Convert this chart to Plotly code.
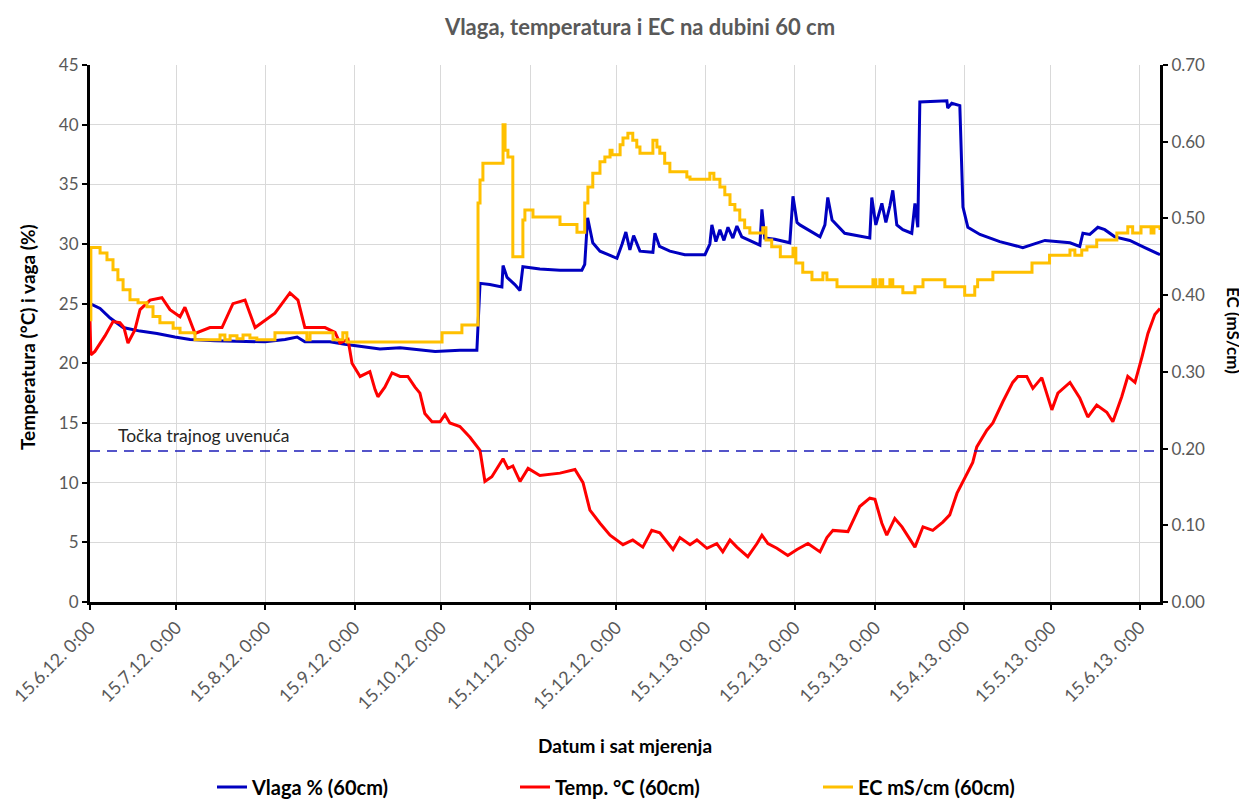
import pandas as pd
import plotly.graph_objects as go

START = pd.Timestamp("2012-06-15")

# Vlaga % (60cm): day offset from 15.6.2012, value
vlaga_day = [0, 3.5, 7, 11.5, 17.4, 23.3, 29.5, 34.8, 43.5, 60.8, 67.8, 72, 74.7, 83.4, 88.6, 93.9,
             100.8, 107.8, 114.7, 120, 128.6, 134.5, 135.6, 139, 143.2, 143.6, 145, 147.7, 149.5,
             150.5, 156.4, 163.4, 171, 172, 173, 174.8, 177.3, 183.2, 185, 186.3, 187.7, 189, 191.2,
             195.7, 196.4, 198, 201.6, 206.8, 213.8, 215.5, 216.2, 217.6, 219, 220.4, 221.8, 223.5,
             224.9, 226.6, 232.9, 233.6, 234.6, 238.1, 243.3, 244.4, 245.8, 246.8, 253.8, 255.5,
             256.5, 258, 262.4, 271.1, 271.8, 273.2, 275.3, 276.7, 278.1, 279.1, 280.5, 282.6, 285.7,
             286.8, 287.8, 288.5, 297.9, 298.2, 299.6, 302.4, 303.5, 305.2, 309.4, 316.3, 324.3,
             326.8, 332, 340.7, 344.1, 345.2, 347.6, 350.4, 352.8, 356.3, 361.5, 366.7, 372]
vlaga_val = [25.0, 24.6, 23.8, 23.0, 22.7, 22.5, 22.2, 22.0, 21.9, 21.8, 22.0, 22.2, 21.8, 21.8, 21.6,
             21.4, 21.2, 21.3, 21.1, 21.0, 21.1, 21.1, 26.7, 26.6, 26.4, 28.2, 27.2, 26.6, 26.1, 28.1,
             27.9, 27.8, 27.8, 28.3, 32.2, 30.1, 29.4, 28.8, 30.0, 31.0, 29.5, 30.7, 29.4, 29.3, 30.9,
             29.8, 29.4, 29.1, 29.1, 30.0, 31.6, 30.2, 31.2, 30.3, 31.4, 30.5, 31.5, 30.6, 29.9, 32.9,
             30.5, 30.4, 30.1, 34.0, 31.8, 31.6, 30.6, 31.6, 33.9, 32.0, 30.9, 30.5, 33.9, 31.6, 33.4,
             31.8, 33.2, 34.5, 31.6, 31.2, 30.9, 33.4, 31.4, 41.9, 42.0, 41.4, 41.8, 41.6, 33.1, 31.4,
             30.8, 30.2, 29.7, 29.9, 30.3, 30.1, 29.8, 30.9, 30.8, 31.4, 31.2, 30.6, 30.3, 29.7, 29.1]

# Temp. °C (60cm)
temp_day = [0, 0.3, 1.7, 5.2, 8, 10.4, 11.8, 13.2, 15.6, 17.4, 20.9, 25, 27.8, 31.3, 33, 36.5, 41.7,
            45.9, 49.7, 53.9, 57.4, 60.8, 64.3, 69.5, 72.3, 74.7, 78.2, 81.7, 85.2, 86.9, 89.7, 91.1,
            93.9, 97.3, 99.1, 100.1, 102.5, 105, 107.8, 110.5, 113, 114.7, 116.4, 118.9, 121.7, 123.4,
            125.1, 128.6, 132.1, 135.6, 137.3, 139.7, 143.6, 145.3, 147, 149.5, 152.3, 156.4, 163.4,
            168.6, 171.4, 173.8, 177.3, 180.8, 185.3, 188.7, 192.2, 195.3, 198.1, 202.7, 205.1, 208.6,
            211, 214.5, 217.9, 220, 222.5, 224.9, 228.7, 231.9, 233.6, 235.7, 238.8, 242.6, 245.8,
            249.6, 253.8, 256.2, 258.3, 263.5, 267.6, 271.1, 272.9, 275.3, 277, 279.8, 282.3, 286.8,
            289.6, 293, 296.5, 298.9, 301.4, 304.1, 306.9, 308.3, 311.8, 313.9, 317.4, 320.8, 322.6,
            325.7, 327.8, 330.9, 334.4, 336.5, 340.7, 344.1, 346.9, 350, 353.5, 355.6, 358.7, 360.8,
            363.3, 365.7, 367.8, 370.2, 372]
temp_val = [23.6, 20.7, 21.0, 22.3, 23.5, 23.4, 23.0, 21.7, 22.8, 24.5, 25.3, 25.5, 24.5, 23.9, 24.7,
            22.5, 23.0, 23.0, 25.0, 25.3, 23.0, 23.6, 24.2, 25.9, 25.3, 23.0, 23.0, 23.0, 22.6, 21.7,
            22.0, 20.0, 18.9, 19.3, 17.8, 17.2, 18.0, 19.2, 18.9, 18.9, 18.0, 17.5, 15.8, 15.1, 15.1,
            15.7, 15.0, 14.7, 13.8, 12.7, 10.1, 10.5, 12.0, 11.2, 11.4, 10.1, 11.2, 10.6, 10.8, 11.1,
            10.0, 7.7, 6.6, 5.6, 4.8, 5.2, 4.6, 6.0, 5.8, 4.4, 5.4, 4.8, 5.2, 4.5, 4.9, 4.2, 5.2, 4.6,
            3.8, 4.9, 5.6, 4.9, 4.5, 3.9, 4.4, 4.9, 4.2, 5.4, 6.0, 5.9, 8.0, 8.7, 8.6, 6.6, 5.6, 7.0,
            6.3, 4.6, 6.3, 6.0, 6.7, 7.3, 9.1, 10.4, 11.7, 13.0, 14.4, 15.0, 16.8, 18.4, 18.9, 18.9,
            17.9, 18.8, 16.1, 17.5, 18.4, 17.1, 15.5, 16.5, 15.9, 15.1, 17.2, 18.9, 18.4, 20.5, 22.5,
            24.1, 24.6]

# EC mS/cm (60cm)
ec_day = [0, 0.3, 3.5, 5.9, 8, 9.7, 11.5, 13.9, 16.7, 19.8, 21.9, 24.3, 28.9, 31.3, 36.5, 45.2, 46.9,
          48.7, 51.1, 53.2, 55.6, 58, 64.3, 75.4, 76.5, 84.5, 87.9, 89.3, 122.4, 129.3, 134.9, 135.6,
          136.6, 143.6, 144.3, 145.3, 147, 150.5, 151.2, 154, 163.4, 169.3, 172, 173.1, 174.8, 177.3,
          179, 180.8, 181.5, 184.3, 185.3, 187, 188.7, 190.1, 191.2, 195.7, 197.1, 198.1, 199.8,
          201.6, 207.5, 208.6, 215.5, 216.9, 219, 220.7, 222.5, 224.2, 225.9, 227.6, 229.4, 233.9,
          235, 237, 240, 244.4, 245.4, 247.8, 251, 254.8, 256.2, 259.7, 272.2, 273.2, 274.6, 275.6,
          278.1, 279.1, 282.6, 286.8, 289.6, 297.2, 304.1, 307.6, 308.6, 313.9, 327.5, 333.6, 340.7,
          342.4, 344.8, 346.6, 350, 357, 360.8, 362.5, 365.4, 368.9, 369.9, 372]
ec_val = [0.368, 0.462, 0.455, 0.446, 0.433, 0.420, 0.407, 0.394, 0.390, 0.385, 0.372, 0.364, 0.357,
          0.351, 0.342, 0.348, 0.342, 0.347, 0.343, 0.348, 0.344, 0.342, 0.351, 0.342, 0.351, 0.342,
          0.351, 0.339, 0.351, 0.361, 0.520, 0.550, 0.572, 0.622, 0.589, 0.580, 0.450, 0.498, 0.511,
          0.502, 0.492, 0.482, 0.520, 0.541, 0.559, 0.574, 0.580, 0.589, 0.583, 0.596, 0.605, 0.611,
          0.602, 0.593, 0.585, 0.602, 0.593, 0.585, 0.572, 0.561, 0.554, 0.551, 0.559, 0.551, 0.541,
          0.531, 0.518, 0.511, 0.498, 0.488, 0.481, 0.488, 0.472, 0.463, 0.450, 0.461, 0.442, 0.430,
          0.420, 0.429, 0.420, 0.411, 0.420, 0.411, 0.420, 0.411, 0.420, 0.411, 0.403, 0.411, 0.420,
          0.411, 0.400, 0.411, 0.420, 0.430, 0.442, 0.452, 0.459, 0.452, 0.459, 0.463, 0.472, 0.481,
          0.489, 0.481, 0.489, 0.481, 0.489, 0.485]

wilting_point = 12.66

tick_dates = pd.date_range("2012-06-01", "2013-06-01", freq="MS") + pd.Timedelta(days=14)
tick_text = [f"{d.day}.{d.month}.{d.strftime('%y')}. 0:00" for d in tick_dates]

def to_dates(days):
    return [START + pd.Timedelta(days=d) for d in days]

FONT = "Lato, 'Liberation Sans', sans-serif"
GRAY = "#595959"
W, H = 1239, 794  # page body has an 8px margin

fig = go.Figure()
fig.add_trace(go.Scatter(x=to_dates(vlaga_day), y=vlaga_val, name="<b>Vlaga % (60cm)</b>",
                         mode="lines", line=dict(color="#0000c0", width=3)))
fig.add_trace(go.Scatter(x=to_dates(temp_day), y=temp_val, name="<b>Temp. °C (60cm)</b>",
                         mode="lines", line=dict(color="#ff0000", width=3)))
fig.add_trace(go.Scatter(x=to_dates(ec_day), y=ec_val, name="<b>EC mS/cm (60cm)</b>", yaxis="y2",
                         mode="lines", line=dict(color="#ffc000", width=3, shape="hv")))

x_end = START + pd.Timedelta(days=372)
fig.add_shape(type="line", xref="paper", x0=0, x1=1, yref="y", y0=wilting_point, y1=wilting_point,
              line=dict(color="#1c1cb8", width=1.5, dash="10px,7px"))

fig.update_layout(
    width=W, height=H,
    margin=dict(l=82, r=87, t=57, b=200, autoexpand=False),
    paper_bgcolor="white", plot_bgcolor="white",
    font=dict(family=FONT, color=GRAY, size=16),
    title=dict(text="<b>Vlaga, temperatura i EC na dubini 60 cm</b>", x=(640 - 8) / W,
               xanchor="center", xref="container",
               y=1 - (27 - 8) / H, yanchor="middle", font=dict(size=22, color=GRAY, family=FONT)),
    xaxis=dict(type="date", range=[START, x_end], tickvals=tick_dates, ticktext=tick_text,
               tickangle=-45, showgrid=True, gridcolor="#d9d9d9", gridwidth=1, automargin=False,
               showline=True, linecolor="black", linewidth=3, ticks="outside", tickcolor="black",
               tickwidth=2, ticklen=5, tickfont=dict(size=18, color=GRAY), zeroline=False),
    yaxis=dict(range=[0, 45], dtick=5, showgrid=True, gridcolor="#d9d9d9", gridwidth=1,
               automargin=False,
               showline=True, linecolor="black", linewidth=3, ticks="outside", tickcolor="black",
               tickwidth=2, ticklen=5, tickfont=dict(size=17, color=GRAY), zeroline=False),
    yaxis2=dict(range=[0, 0.70], dtick=0.1, tickformat=".2f", overlaying="y", side="right",
                automargin=False,
                showgrid=False, showline=True, linecolor="black", linewidth=3, ticks="outside",
                tickcolor="black", tickwidth=2, ticklen=5, tickfont=dict(size=17, color=GRAY),
                zeroline=False),
    legend=dict(orientation="h", x=(212 - 90) / 1070, xanchor="left", y=(602 - 787) / 537,
                yanchor="middle", entrywidth=258, entrywidthmode="pixels",
                font=dict(size=20, color="black", family=FONT),
                itemwidth=30, bgcolor="rgba(0,0,0,0)"),
    showlegend=True,
)

fig.add_annotation(text="Točka trajnog uvenuća", xref="paper", yref="paper",
                   x=(116 - 90) / 1070, y=(602 - 435) / 537, xanchor="left", yanchor="middle",
                   showarrow=False, font=dict(size=17.5, color="#262626", family=FONT))
fig.add_annotation(text="<b>Temperatura (°C) i vaga (%)</b>", xref="paper", yref="paper",
                   x=(27 - 90) / 1070, y=(602 - 337) / 537, textangle=-90, xanchor="center",
                   yanchor="middle", showarrow=False, font=dict(size=19, color="black", family=FONT))
fig.add_annotation(text="<b>EC (mS/cm)</b>", xref="paper", yref="paper",
                   x=(1234 - 90) / 1070, y=(602 - 330) / 537, textangle=90, xanchor="center",
                   yanchor="middle", showarrow=False, font=dict(size=17, color="black", family=FONT))
fig.add_annotation(text="<b>Datum i sat mjerenja</b>", xref="paper", yref="paper",
                   x=(625 - 90) / 1070, y=(602 - 745) / 537, xanchor="center", yanchor="middle",
                   showarrow=False, font=dict(size=19, color="black", family=FONT))

fig.write_html("out.html")
